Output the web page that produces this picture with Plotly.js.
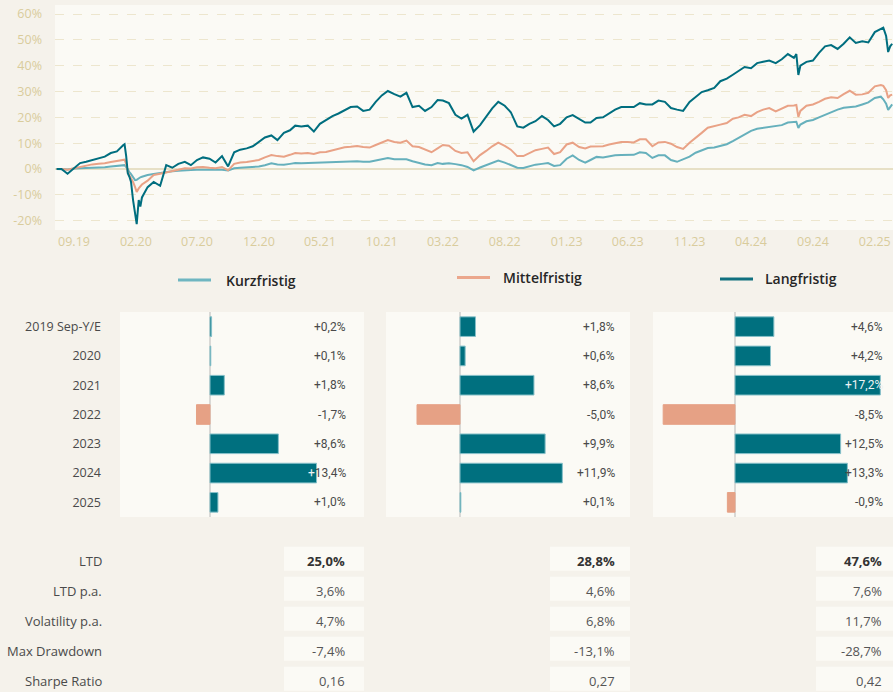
<!DOCTYPE html>
<html><head><meta charset="utf-8">
<script src="https://cdn.plot.ly/plotly-3.0.1.min.js"></script>
<style>html,body{margin:0;padding:0;background:#f5f2eb;} #chart{width:893px;height:692px;}</style>
</head><body><div id="chart"></div>
<script>
// ---------- DATA ----------
const dates = ['2019-07-20','2019-08-01','2019-08-16','2019-09-01','2019-09-16','2019-10-01','2019-10-16','2019-11-01','2019-11-16','2019-12-01','2019-12-16',
'2020-01-01','2020-01-04','2020-01-08','2020-01-12','2020-01-16','2020-01-20','2020-01-25','2020-01-30','2020-02-03','2020-02-08','2020-02-12','2020-02-16',
'2020-03-01','2020-03-16','2020-04-01','2020-04-16','2020-05-01','2020-05-16','2020-06-01','2020-06-16','2020-07-01','2020-07-16','2020-08-01','2020-08-16',
'2020-09-01','2020-09-16','2020-10-01','2020-10-16','2020-11-01','2020-11-16','2020-12-01','2020-12-16',
'2021-01-01','2021-01-16','2021-02-01','2021-02-16','2021-03-01','2021-03-16','2021-04-01','2021-04-16','2021-05-01','2021-05-16','2021-06-01','2021-06-16',
'2021-07-01','2021-07-16','2021-08-01','2021-08-16','2021-09-01','2021-09-16','2021-10-01','2021-10-16','2021-11-01','2021-11-16','2021-12-01','2021-12-16',
'2022-01-01','2022-01-16','2022-02-01','2022-02-16','2022-03-01','2022-03-16','2022-04-01','2022-04-16','2022-05-01','2022-05-16','2022-06-01','2022-06-16',
'2022-07-01','2022-07-16','2022-08-01','2022-08-16','2022-09-01','2022-09-16','2022-10-01','2022-10-16','2022-11-01','2022-11-16','2022-12-01','2022-12-16',
'2023-01-01','2023-01-16','2023-02-01','2023-02-16','2023-03-01','2023-03-16','2023-04-01','2023-04-16','2023-05-01','2023-05-16','2023-06-01','2023-06-16',
'2023-07-01','2023-07-16','2023-08-01','2023-08-16','2023-09-01','2023-09-16','2023-10-01','2023-10-16','2023-11-01','2023-11-16','2023-12-01','2023-12-16',
'2024-01-01','2024-01-16','2024-02-01','2024-02-16','2024-03-01','2024-03-16','2024-04-01','2024-04-16','2024-05-01','2024-05-16','2024-06-01','2024-06-16',
'2024-07-01','2024-07-16','2024-07-22','2024-07-27','2024-08-01','2024-08-16','2024-09-01','2024-09-16','2024-10-01','2024-10-16','2024-11-01','2024-11-16',
'2024-12-01','2024-12-16','2025-01-01','2025-01-16','2025-02-01','2025-02-16','2025-02-22','2025-03-01','2025-03-06','2025-03-11','2025-03-16'];

const kurz = [0,0,-0.2,0.2,0.4,0.4,0.5,0.5,0.7,1.0,1.2,
1.5,1.5,0.8,-0.4,-1.2,-2.0,-3.0,-4.3,-4.2,-3.5,-3.2,-3.0,
-2.3,-1.9,-1.5,-1.2,-0.9,-0.7,-0.4,-0.4,-0.3,-0.3,-0.4,-0.4,
-0.3,-0.6,0.3,0.5,0.6,0.8,1.0,1.5,
2.2,1.8,1.7,2.0,2.3,2.2,2.3,2.3,2.5,2.6,2.7,2.8,
3.0,3.1,3.0,2.8,2.8,3.3,3.8,4.3,3.8,3.7,3.8,3.0,
2.3,1.8,1.5,2.3,2.0,2.2,1.9,1.5,0.8,-0.5,0.6,1.5,
2.3,3.3,2.5,1.6,0.5,0.4,1.0,1.7,2.0,2.3,1.2,1.5,
4.0,5.3,3.5,2.5,3.5,4.7,4.5,5.0,5.3,5.4,5.5,5.5,
6.5,6.2,4.3,5.3,5.3,3.5,2.8,3.8,4.8,6.3,7.2,8.1,
8.3,8.8,9.6,10.8,12.0,13.3,14.8,15.6,16.0,16.4,16.6,17.0,
18.0,18.2,18.3,15.9,17.2,18.5,19.0,20.0,21.0,22.0,23.0,23.7,
24.0,24.2,25.0,25.8,27.5,28.0,27.0,25.3,22.9,24.0,25.0];

const mittel = [0,0,-0.3,0.3,0.8,1.3,1.8,2.0,2.2,2.7,3.0,
3.5,3.6,2.0,-1.2,-2.5,-3.5,-5.0,-7.0,-8.9,-7.5,-6.8,-6.0,
-4.5,-2.3,-1.8,-1.2,-0.8,-0.3,0.3,0.2,0.7,0.8,0.5,0.3,
0.8,-0.5,2.0,2.5,2.7,3.0,3.5,4.5,
5.4,5.0,4.8,5.5,6.2,6.0,6.2,5.8,6.5,6.6,7.2,8.0,
8.4,8.6,8.9,8.5,8.3,9.3,10.2,11.2,10.5,10.2,11.0,8.8,
8.5,7.5,6.5,8.0,9.3,9.0,7.0,6.2,6.5,3.0,5.4,7.0,
8.8,10.2,9.0,7.5,5.0,5.0,6.2,7.3,7.8,8.3,5.8,6.5,
9.5,10.2,8.5,8.0,8.7,8.7,8.8,9.5,10.0,10.5,10.5,10.3,
11.5,11.5,8.8,10.3,10.5,9.8,8.5,7.8,10.2,12.0,14.0,16.0,
16.5,17.2,17.8,19.5,20.0,21.0,20.5,22.0,23.0,23.6,22.3,23.5,
24.5,24.6,24.8,20.2,22.5,24.5,25.0,26.0,27.2,27.8,27.5,29.0,
30.3,28.8,28.9,29.5,32.0,32.5,32.2,30.5,27.5,28.5,28.8];

const lang = [0,0,-1.8,0.3,2.3,2.8,3.5,4.3,4.8,6.2,6.8,
9.3,9.6,5.0,-1.6,-3.0,-5.0,-12.0,-17.0,-21.3,-12.0,-14.5,-11.0,
-7.0,-5.0,-6.5,1.5,0.5,2.0,2.8,1.5,3.5,4.5,4.0,2.5,
5.0,1.0,6.5,7.5,8.0,8.8,10.5,12.2,
13.0,11.2,14.0,15.0,16.8,16.5,16.8,14.5,17.5,19.0,20.5,21.5,
22.8,24.0,24.2,22.5,23.0,26.0,28.5,30.2,29.0,28.0,29.5,24.0,
24.5,22.5,24.0,26.7,26.5,25.5,21.0,19.5,21.0,14.5,17.0,20.5,
23.5,26.0,24.5,22.0,16.5,16.0,17.5,18.5,20.5,19.0,16.5,17.5,
20.0,20.9,19.5,18.0,18.0,19.8,20.0,21.5,23.0,24.0,24.0,24.0,
25.5,25.0,25.0,26.5,26.0,23.6,23.0,22.5,26.0,28.0,29.8,30.5,
31.4,34.0,35.0,36.5,38.0,39.5,39.0,41.0,41.5,42.0,41.0,42.5,
44.5,43.0,44.5,36.4,40.0,41.5,42.0,45.0,47.5,48.0,46.5,48.5,
51.0,48.8,49.5,49.0,53.0,54.0,54.7,51.5,45.3,47.5,48.5];

const seriesNames = ['Kurzfristig','Mittelfristig','Langfristig'];
const yTickVals = [-20,-10,0,10,20,30,40,50,60];

const years = ['2019 Sep-Y/E','2020','2021','2022','2023','2024','2025'];
const yrKurz = [0.2,0.1,1.8,-1.7,8.6,13.4,1.0];
const yrMittel = [1.8,0.6,8.6,-5.0,9.9,11.9,0.1];
const yrLang = [4.6,4.2,17.2,-8.5,12.5,13.3,-0.9];

const statLabels = ['LTD','LTD p.a.','Volatility p.a.','Max Drawdown','Sharpe Ratio'];
const statKurz = [25.0,3.6,4.7,-7.4,0.16];
const statMittel = [28.8,4.6,6.8,-13.1,0.27];
const statLang = [47.6,7.6,11.7,-28.7,0.42];

// ---------- STYLE ----------
const W = 893, H = 692;
const BG = '#f5f2eb', PANEL = '#fbfaf5';
const FONT = 'Open Sans, sans-serif';
const VFONT = 'Roboto, sans-serif';
const lineColors = ['#66b0bc','#e9a286','#006e7f'];
const legendColors = ['#6fb6c1','#eba78c','#10707f'];
const POS = '#00707f', NEG = '#e6a185';
const LIGHT = '#eef3f4', DARK = '#4a4a4a';
const gold = '#d9cc9c';
const py = p => 1 - p / H;
const pxr = p => p / W;

const fmtNum = v => Math.abs(v).toFixed(1).replace('.', ',') + '%';
const signOf = v => v > 0 ? '+' : (v < 0 ? '-' : '');
const fmtStat = (v, i) => i === 4 ? v.toFixed(2).replace('.', ',') : (v < 0 ? '-' : '') + fmtNum(v);
const fmtTick = v => (v < 0 ? '-' : '') + Math.abs(v) + '%';

const traces = [];
[kurz, mittel, lang].forEach((s, i) => {
  traces.push({type:'scatter', mode:'lines', x:dates, y:s, name:seriesNames[i],
    line:{color:lineColors[i], width:2}, xaxis:'x', yaxis:'y', hoverinfo:'skip'});
});

const panels = [
  {vals:yrKurz, xa:'x2', ya:'y2', dom:[120,364], zero:210, scale:7.95, labR:348},
  {vals:yrMittel, xa:'x3', ya:'y3', dom:[386,630], zero:460, scale:8.6, labR:617},
  {vals:yrLang, xa:'x4', ya:'y4', dom:[653,893], zero:735, scale:8.45, labR:885}
];
const annotations = [];
const shapes = [];
panels.forEach(p => {
  p.range = [(p.dom[0] - p.zero) / p.scale, (p.dom[1] - p.zero) / p.scale];
  traces.push({type:'bar', orientation:'h', x:p.vals, y:years, xaxis:p.xa, yaxis:p.ya,
    marker:{color:p.vals.map(v => v >= 0 ? POS : NEG),
            line:{color:p.vals.map(v => v >= 0 ? '#86c0c9' : NEG), width:1}},
    hoverinfo:'skip', showlegend:false});
  p.vals.forEach((v, i) => {
    // text contrast where the label sits on top of the bar
    const barEnd = p.zero + Math.max(v, 0) * p.scale;
    const labStart = p.labR - 38;
    let text, color = DARK;
    if (barEnd >= p.labR - 10) { text = signOf(v) + fmtNum(v); color = LIGHT; }
    else if (barEnd > labStart + 3) { text = '<span style="color:' + LIGHT + '">' + signOf(v) + '</span>' + fmtNum(v); }
    else { text = signOf(v) + fmtNum(v); }
    annotations.push({xref:p.xa + ' domain', yref:p.ya, x:(p.labR - p.dom[0]) / (p.dom[1] - p.dom[0]), y:i, text:text,
      xanchor:'right', yanchor:'middle', showarrow:false, font:{family:VFONT, size:12, color:color}});
  });
});

// legend (manual)
const legPos = [{x:178, y:280, tx:224}, {x:457, y:277.5, tx:501}, {x:720, y:279, tx:763}];
seriesNames.forEach((n, i) => {
  const l = legPos[i];
  shapes.push({type:'line', xref:'paper', yref:'paper', x0:pxr(l.x), x1:pxr(l.x+33), y0:py(l.y), y1:py(l.y),
    line:{color:legendColors[i], width:3}});
  annotations.push({xref:'paper', yref:'paper', x:pxr(l.tx), y:py(l.y), text:n, xanchor:'left', yanchor:'middle',
    showarrow:false, font:{family:FONT, size:14, weight:600, color:'#262626'}});
});

// stats block: one cell per value, rows from the label list
const rowTop = 546.7, rowPitch = 30, cellH = 24;
const statCols = [
  {vals:statKurz, x0:284, x1:364, tx:347},
  {vals:statMittel, x0:550, x1:630, tx:617},
  {vals:statLang, x0:816, x1:900, tx:884}
];
statLabels.forEach((lab, r) => {
  const top = rowTop + r * rowPitch, mid = top + cellH / 2 + 2.5;
  annotations.push({xref:'paper', yref:'paper', x:pxr(104), y:py(mid), text:lab, xanchor:'right', yanchor:'middle',
    showarrow:false, font:{family:FONT, size:13, color:'#4a4a4a'}});
  statCols.forEach(c => {
    shapes.push({type:'rect', xref:'paper', yref:'paper', x0:pxr(c.x0), x1:pxr(c.x1), y0:py(top + cellH), y1:py(top),
      fillcolor:PANEL, line:{width:0}, layer:'below'});
    annotations.push({xref:'paper', yref:'paper', x:pxr(c.tx), y:py(mid), text:fmtStat(c.vals[r], r),
      xanchor:'right', yanchor:'middle', showarrow:false,
      font:{family:FONT, size:13, color: r === 0 ? '#333' : '#555', weight: r === 0 ? 700 : 400}});
  });
});

const barY = {domain:[py(517), py(312)], type:'category', autorange:'reversed', showgrid:false, zeroline:false,
  showline:false, ticks:'', fixedrange:true};
const barX = (a, p) => ({domain:[p.dom[0]/W, Math.min(1, p.dom[1]/W)], range:p.range, anchor:a, showgrid:false,
  showticklabels:false, showline:false, ticks:'', zeroline:true, zerolinecolor:'#d9d9d6', zerolinewidth:1.5, fixedrange:true});

const layout = {
  width:W, height:H, margin:{l:0, r:0, t:0, b:0}, paper_bgcolor:BG, plot_bgcolor:PANEL,
  font:{family:FONT, color:'#4a4a4a', size:12}, showlegend:false, bargap:0.33,
  xaxis:{domain:[55/W, 1], type:'date', range:['2019-07-16','2025-03-18'], tick0:'2019-09-01', dtick:'M5',
    tickformat:'%m.%y', showgrid:false, zeroline:false, showline:false, ticks:'', anchor:'y',
    tickfont:{family:FONT, size:12.5, color:gold}, ticklabelstandoff:2},
  yaxis:{domain:[py(230), py(5)], range:[-23.6, 63.5], tickvals:yTickVals, ticktext:yTickVals.map(fmtTick),
    gridcolor:'#ede6ce', griddash:'dash', gridwidth:1, zeroline:true, zerolinecolor:'#e7e0c6', zerolinewidth:1.2,
    showline:false, ticks:'', anchor:'x', tickfont:{family:FONT, size:12.5, color:gold}, ticklabelstandoff:12},
  xaxis2:barX('y2', panels[0]), xaxis3:barX('y3', panels[1]), xaxis4:barX('y4', panels[2]),
  yaxis2:Object.assign({}, barY, {anchor:'x2', showticklabels:true, ticklabelstandoff:18,
    tickfont:{family:FONT, size:12.5, color:'#4a4a4a'}}),
  yaxis3:Object.assign({}, barY, {anchor:'x3', showticklabels:false}),
  yaxis4:Object.assign({}, barY, {anchor:'x4', showticklabels:false}),
  annotations:annotations, shapes:shapes
};
Plotly.newPlot('chart', traces, layout, {staticPlot:true, displayModeBar:false});
</script></body></html>
